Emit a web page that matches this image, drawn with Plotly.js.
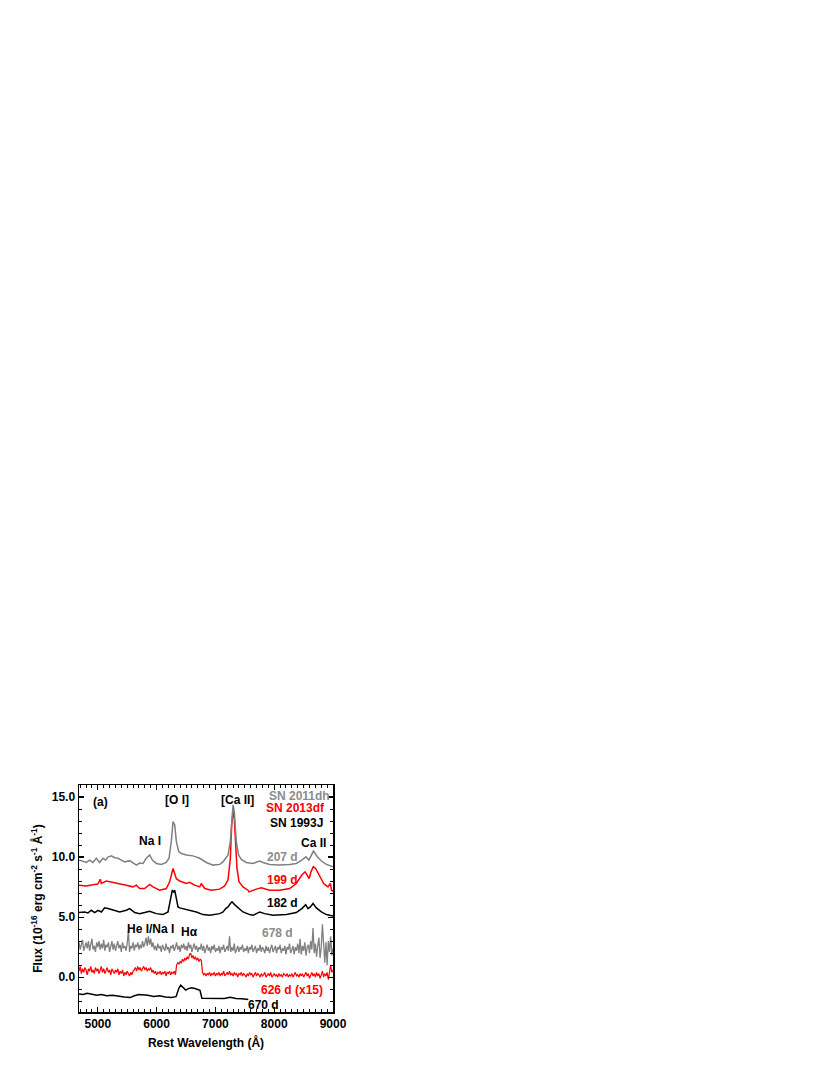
<!DOCTYPE html>
<html>
<head>
<meta charset="utf-8">
<script src="https://cdn.plot.ly/plotly-3.0.1.min.js"></script>
<style>body{margin:0;padding:0;background:#fff}#chart{width:830px;height:1075px}</style>
</head>
<body>
<div id="chart"></div>
<script>
// SN 2011dh, 207 d
const grey207_x = [4680,4748,4805,4861,4918,4975,5032,5088,5134,5173,5230,5287,5343,5400,5457,5542,5598,5655,5712,5769,5825,5882,5927,5995,6080,6165,6211,6250,6279,6307,6336,6375,6420,6506,6619,6733,6846,6959,7073,7130,7158,7215,7254,7282,7300,7321,7355,7395,7440,7525,7640,7753,7810,7923,8093,8263,8376,8470,8540,8590,8635,8668,8734,8802,8887,9000];
const grey207_y = [9.75,9.67,9.55,9.75,9.55,9.9,9.55,9.9,9.75,10.0,10.1,9.95,9.9,9.75,9.6,9.7,9.55,9.33,9.5,9.47,9.9,10.17,9.75,9.47,9.39,9.55,9.9,11.3,12.95,12.7,11.3,10.45,10.3,10.17,10.1,9.9,9.55,9.33,9.39,9.6,9.8,10.17,11.3,13.8,14.35,13.8,11.3,10.17,9.8,9.55,9.47,9.67,9.55,9.39,9.33,9.39,9.47,9.75,10.03,9.75,10.17,10.5,10.03,9.67,9.39,9.2];
// SN 2013df, 199 d
const red199_x = [4680,4805,4918,5000,5042,5060,5145,5258,5372,5485,5598,5655,5712,5797,5882,5939,6052,6165,6222,6256,6279,6307,6336,6392,6506,6562,6647,6733,6760,6818,6931,7073,7158,7215,7254,7277,7300,7321,7345,7367,7401,7469,7554,7571,7696,7781,7923,8093,8263,8376,8470,8525,8560,8595,8625,8665,8705,8773,8841,8915,8955,8975,9000];
const red199_y = [7.66,7.6,7.7,7.75,8.15,7.8,8.0,7.9,7.8,7.66,7.52,7.66,7.38,7.38,7.72,7.52,7.24,7.38,7.94,8.64,9.05,8.64,8.2,8.0,7.8,7.9,7.66,7.52,7.8,7.38,7.24,7.33,7.6,8.1,9.9,12.7,13.8,13.2,11.3,9.05,7.94,7.52,7.24,7.1,7.33,7.44,7.24,7.24,7.38,7.8,8.5,8.77,8.5,8.2,8.77,9.2,9.05,8.36,7.8,7.52,7.8,7.24,7.15];
// SN 1993J, 182 d
const black182_x = [4680,4776,4833,4890,4946,5003,5060,5116,5173,5258,5372,5485,5542,5627,5712,5797,5882,5995,6108,6194,6222,6250,6267,6290,6307,6336,6364,6392,6449,6562,6676,6789,6903,7073,7130,7175,7215,7254,7282,7326,7383,7469,7583,7640,7753,7838,7980,8207,8376,8470,8535,8575,8615,8660,8717,8802,8887,9000];
const black182_y = [5.38,5.43,5.35,5.57,5.38,5.57,5.43,5.77,5.71,5.57,5.43,5.57,5.71,5.38,5.29,5.38,5.49,5.29,5.21,5.43,6.13,6.82,7.24,7.05,7.24,6.55,5.85,5.77,5.71,5.57,5.43,5.21,5.15,5.29,5.43,5.71,5.85,6.13,6.27,6.04,5.77,5.43,5.21,5.15,5.43,5.29,5.15,5.21,5.38,5.71,6.04,5.71,5.85,6.13,5.77,5.43,5.21,5.1];
// SN 2011dh, 678 d (start 4680 A, step 20 A)
const grey678_y = [2.9,2.3,2.7,3.1,2.2,2.6,2.9,2.4,3.0,2.2,
2.7,3.2,2.3,2.6,2.1,2.9,2.5,3.0,2.3,2.8,
2.4,3.1,2.2,2.7,2.5,2.9,2.1,2.6,3.0,2.3,
2.8,2.2,2.6,3.0,2.4,2.7,2.1,2.9,2.4,2.6,
2.2,2.8,3.9,2.1,2.6,2.4,2.9,2.2,2.7,2.5,
2.9,2.3,2.7,2.4,3.0,2.5,2.8,3.3,2.6,3.4,
2.7,3.2,2.5,2.9,2.3,2.6,2.2,2.8,2.4,2.6,
2.1,2.7,2.4,2.2,2.8,2.3,2.5,2.0,2.6,2.4,
2.7,2.2,2.5,2.9,2.3,2.6,2.1,2.7,2.4,2.8,
2.3,2.6,2.2,2.9,2.4,2.7,2.1,2.5,2.8,2.3,
2.6,2.1,2.5,2.3,2.8,2.2,2.6,2.0,2.4,2.7,
2.2,2.5,2.0,2.6,2.3,2.7,2.1,2.4,2.2,2.6,
2.0,2.5,2.3,2.7,2.1,2.4,2.6,2.2,3.4,2.1,
2.5,2.2,2.8,2.0,2.4,2.6,2.1,2.5,2.3,2.7,
2.1,2.4,2.2,2.6,2.0,2.5,2.3,2.7,2.1,2.4,
2.6,2.0,2.4,2.2,2.7,2.1,2.5,2.3,2.0,2.6,
2.2,2.5,2.0,2.4,2.7,2.1,2.3,2.6,2.0,2.5,
2.3,2.7,2.0,2.4,2.2,2.6,1.9,2.5,2.3,2.8,
2.0,2.4,2.6,1.9,2.5,2.2,2.8,2.0,3.2,1.9,
2.6,2.2,2.9,1.8,2.5,2.7,2.0,3.0,2.3,4.1,
2.0,2.8,1.7,2.6,3.3,1.6,2.5,4.4,2.2,1.2,
2.9,1.0,3.0,2.1,3.4,1.8,2.4];
// SN 2013df, 626 d (x15) (start 4680 A, step 20 A)
const red626_y = [0.5,0.9,0.3,0.7,0.4,0.8,0.6,0.2,0.7,0.5,
0.9,0.4,0.6,0.3,0.8,0.5,0.7,0.3,0.6,0.9,
0.4,0.7,0.3,0.6,0.8,0.4,0.6,0.2,0.7,0.5,
0.3,0.6,0.4,0.7,0.2,0.5,0.3,0.6,0.1,0.4,
0.2,0.5,0.3,0.1,0.4,0.2,0.5,0.6,0.8,0.5,
0.9,0.6,0.8,0.5,0.7,0.9,0.6,0.8,0.5,0.7,
0.6,0.8,0.4,0.6,0.3,0.5,0.2,0.4,0.3,0.5,
0.2,0.4,0.3,0.5,0.1,0.4,0.3,0.5,0.2,0.4,
0.3,0.5,0.2,1.0,1.2,1.1,1.3,1.2,1.5,1.3,
1.6,1.4,1.7,1.5,1.9,2.0,1.6,1.8,1.5,1.7,
1.4,1.6,1.3,1.5,1.4,0.4,0.2,0.3,0.1,0.3,
0.2,0.4,0.1,0.3,0.2,0.4,0.1,0.3,0.2,0.4,
0.1,0.3,0.2,0.5,0.1,0.3,0.4,0.2,0.5,0.2,
0.3,0.1,0.4,0.2,0.3,0.0,0.3,0.2,0.4,0.1,
0.3,0.2,0.0,0.3,0.1,0.4,0.2,0.3,0.0,0.2,
0.4,0.1,0.3,0.2,0.0,0.3,0.1,0.2,0.4,0.0,
0.2,0.3,0.1,0.4,0.0,0.2,0.3,0.1,0.2,0.0,
0.3,0.1,0.2,0.0,0.3,0.2,0.1,0.3,0.0,0.2,
0.1,0.3,0.0,0.2,0.4,0.1,0.2,0.0,0.3,0.1,
0.3,0.0,0.2,0.4,0.1,0.3,-0.1,0.2,0.4,0.1,
0.3,0.0,0.4,0.1,0.3,-0.1,0.2,0.5,0.0,0.3,
0.1,0.4,-0.2,0.3,1.0,0.4,0.6];
// SN 1993J, 670 d
const black670_x = [4680,4750,4820,4900,4980,5060,5150,5250,5350,5450,5550,5620,5700,5780,5850,5950,6050,6150,6250,6330,6350,6380,6410,6450,6496,6540,6596,6650,6700,6738,6770,6850,6950,7050,7150,7250,7350,7450,7560];
const black670_y = [-1.4,-1.45,-1.35,-1.45,-1.5,-1.45,-1.55,-1.5,-1.6,-1.65,-1.7,-1.55,-1.45,-1.45,-1.5,-1.6,-1.55,-1.65,-1.7,-1.62,-1.3,-0.9,-0.67,-0.85,-1.08,-0.95,-0.88,-0.95,-1.0,-1.1,-1.75,-1.75,-1.8,-1.75,-1.78,-1.68,-1.78,-1.8,-1.85];

// text labels
const labelText = ['(a)','[O I]','[Ca II]','SN 2011dh','SN 2013df','SN 1993J','Na I','Ca II','207 d','199 d','182 d','He I/Na I','H&#945;','678 d','626 d (x15)','670 d'];
const labelX = [4879,6342,7373,8990,8893,8864,5888,8666,8139,8139,8139,5888,6556,8048,8298,7815];
const labelY = [14.6,14.76,14.76,15.1,14.06,12.8,11.3,11.14,9.97,8.08,6.14,4.0,3.72,3.64,-1.03,-2.33];
const labelColor = ['black','black','black','#8c8c8c','red','black','black','black','#8c8c8c','red','black','black','black','#8c8c8c','red','black'];
const labelAnchor = ['left','center','center','right','right','right','center','center','center','center','center','center','center','center','center','center'];

const FONT = 'Liberation Sans, Arial, sans-serif';
const GREY = '#808080';

const traces = [
  {type:'scatter', mode:'lines', x0:4680, dx:20, y:grey678_y, line:{color:GREY, width:1.3}, hoverinfo:'skip'},
  {type:'scatter', mode:'lines', x0:4680, dx:20, y:red626_y, line:{color:'red', width:1.2}, hoverinfo:'skip'},
  {type:'scatter', mode:'lines', x:black670_x, y:black670_y, line:{color:'black', width:1.5}, hoverinfo:'skip'},
  {type:'scatter', mode:'lines', x:black182_x, y:black182_y, line:{color:'black', width:1.5}, hoverinfo:'skip'},
  {type:'scatter', mode:'lines', x:red199_x, y:red199_y, line:{color:'red', width:1.5}, hoverinfo:'skip'},
  {type:'scatter', mode:'lines', x:grey207_x, y:grey207_y, line:{color:GREY, width:1.5}, hoverinfo:'skip'}
];

const annotations = labelText.map((t,i)=>({
  x: labelX[i], y: labelY[i], xref:'x', yref:'y', text:t, showarrow:false,
  xanchor: labelAnchor[i], yanchor:'middle',
  font:{family:FONT, size:12, weight:'bold', color:labelColor[i]}
}));

const axisCommon = {
  showline:true, linecolor:'black', linewidth:1.5, mirror:'ticks',
  ticks:'inside', ticklen:5, tickwidth:1.2, tickcolor:'black',
  showgrid:false, zeroline:false,
  tickfont:{family:FONT, size:12, weight:'bold', color:'black'}
};

const layout = {
  width:830, height:1075,
  margin:{l:79, r:497, t:785, b:63},
  paper_bgcolor:'white', plot_bgcolor:'white',
  showlegend:false,
  xaxis: Object.assign({}, axisCommon, {
    range:[4680, 9000], dtick:1000, tick0:0, tickformat:'d',
    minor:{dtick:100, ticks:'inside', ticklen:3, tickcolor:'black', tickwidth:1},
    title:{text:'Rest Wavelength (Å)', standoff:8, font:{family:FONT, size:12, weight:'bold', color:'black'}}
  }),
  yaxis: Object.assign({}, axisCommon, {
    range:[-2.9, 16.0], dtick:5, tick0:0, tickformat:'.1f',
    minor:{dtick:1, ticks:'inside', ticklen:3, tickcolor:'black', tickwidth:1},
    title:{text:'Flux (10<sup>-16</sup> erg cm<sup>-2</sup> s<sup>-1</sup> Å<sup>-1</sup>)', standoff:6, font:{family:FONT, size:12, weight:'bold', color:'black'}}
  }),
  annotations: annotations
};

Plotly.newPlot('chart', traces, layout, {displayModeBar:false, staticPlot:true});
</script>
</body>
</html>
